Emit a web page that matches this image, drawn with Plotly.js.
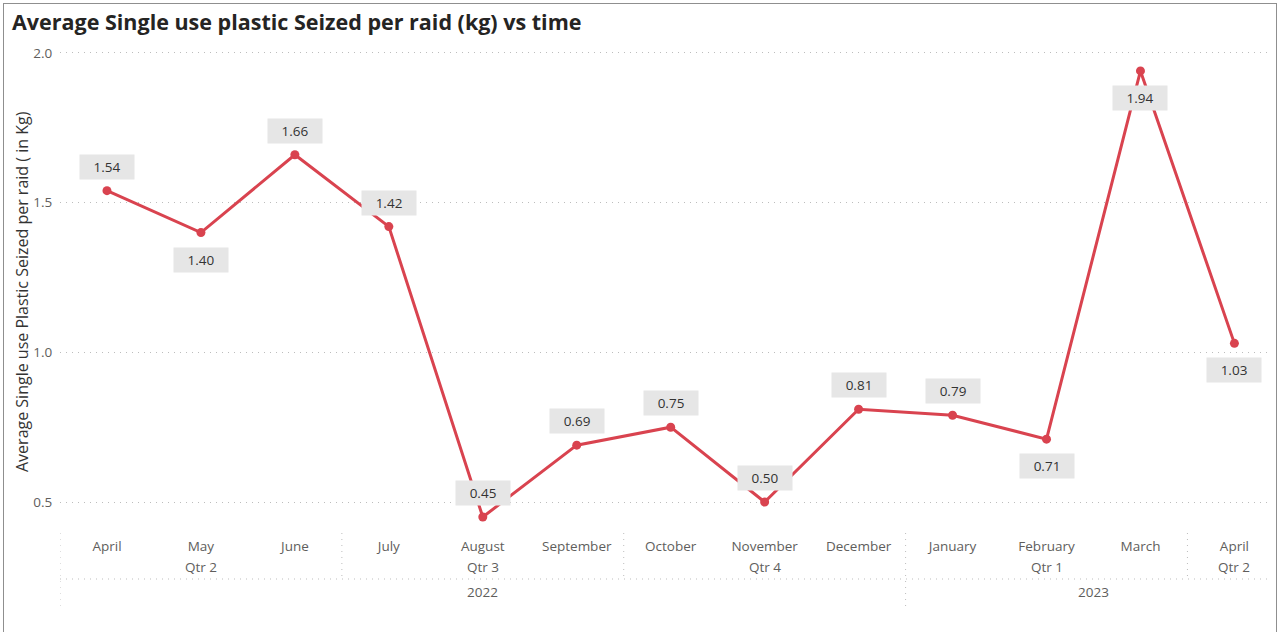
<!DOCTYPE html>
<html>
<head>
<meta charset="utf-8">
<script src="https://cdn.plot.ly/plotly-3.0.1.min.js"></script>
<style>
html,body{margin:0;padding:0;background:#fff;}
#chart{width:1279px;height:632px;}
#frame{position:absolute;left:3px;top:3px;width:1272px;height:640px;border:1px solid #8f8f8f;pointer-events:none;}
</style>
</head>
<body>
<div id="chart"></div>
<div id="frame"></div>
<script>
// ---- data ----
const months = ["April","May","June","July","August","September","October","November","December","January","February","March","April"];
const quarters = ["Qtr 2","Qtr 2","Qtr 2","Qtr 3","Qtr 3","Qtr 3","Qtr 4","Qtr 4","Qtr 4","Qtr 1","Qtr 1","Qtr 1","Qtr 2"];
const years = ["2022","2022","2022","2022","2022","2022","2022","2022","2022","2023","2023","2023","2023"];
const values = [1.54, 1.40, 1.66, 1.42, 0.45, 0.69, 0.75, 0.50, 0.81, 0.79, 0.71, 1.94, 1.03];
const labelSide = ["above","below","above","above","above","above","above","above","above","above","below","below","below"];
const yTicks = [0.5, 1.0, 1.5, 2.0];

// ---- build ----
const idx = months.map((_, i) => i);
const lineColor = "#D9434F";
const gridColor = "#BDBDBD";
const textGray = "#605E5C";
const font = "'Open Sans', 'Noto Sans', sans-serif";
const sparseDot = "1px,5px";

const trace = {
  x: idx, y: values, type: "scatter", mode: "lines+markers",
  line: {color: lineColor, width: 3},
  marker: {color: lineColor, size: 9},
  hoverinfo: "x+y"
};

const annotations = [];
values.forEach((v, i) => {
  const up = labelSide[i] === "above";
  annotations.push({
    x: i, y: v, xref: "x", yref: "y", text: v.toFixed(2), showarrow: false,
    yshift: up ? 24 : -27, bgcolor: "#E6E6E6", borderpad: 3, width: 48, height: 18,
    font: {family: font, size: 13.5, color: "#333333"}
  });
});

function groups(keys) {
  const out = [];
  keys.forEach((k, i) => {
    const last = out[out.length - 1];
    if (last && last.key === k) last.end = i; else out.push({key: k, start: i, end: i});
  });
  return out;
}
const qKeys = quarters.map((q, i) => years[i] + "|" + q);
const qGroups = groups(qKeys);
const yGroups = groups(years);

const shapes = [];
const plotBottomPx = 523, plotTopPx = 44, H = 632;
const plotH = plotBottomPx - plotTopPx;
function pyPaper(px) { return (plotBottomPx - px) / plotH; }

qGroups.forEach(g => {
  annotations.push({
    x: (g.start + g.end) / 2, xref: "x", y: pyPaper(567), yref: "paper",
    text: g.key.split("|")[1], showarrow: false, yanchor: "middle",
    font: {family: font, size: 13.5, color: textGray}
  });
});
yGroups.forEach(g => {
  annotations.push({
    x: (g.start + g.end) / 2, xref: "x", y: pyPaper(592), yref: "paper",
    text: g.key, showarrow: false, yanchor: "middle",
    font: {family: font, size: 13.5, color: textGray}
  });
});
const dot = {color: gridColor, width: 1, dash: sparseDot};
qGroups.forEach((g, gi) => {
  const xb = g.start - 0.5;
  const isYear = gi === 0 || years[g.start] !== years[g.start - 1];
  shapes.push({type: "line", xref: "x", yref: "paper", x0: xb, x1: xb,
    y0: pyPaper(533), y1: pyPaper(isYear ? 606 : 579), line: dot});
});
shapes.push({type: "line", xref: "paper", yref: "paper", x0: 0, x1: 1,
  y0: pyPaper(579), y1: pyPaper(579), line: dot});

annotations.push({
  xref: "paper", yref: "paper", x: -38 / 1212, y: pyPaper(292), textangle: -90,
  text: "Average Single use Plastic Seized per raid ( in Kg)", showarrow: false,
  xanchor: "center", yanchor: "middle",
  font: {family: font, size: 16, color: "#333333"}
});

const layout = {
  width: 1279, height: 632,
  margin: {l: 60, r: 7, t: plotTopPx, b: H - plotBottomPx, pad: 0},
  paper_bgcolor: "#ffffff", plot_bgcolor: "#ffffff",
  showlegend: false,
  title: {
    text: "<b>Average Single use plastic Seized per raid (kg) vs time</b>",
    x: 12 / 1279, xanchor: "left", xref: "container",
    y: 1 - 22 / 632, yanchor: "middle", yref: "container",
    font: {family: font, size: 21.5, color: "#252423"}
  },
  xaxis: {
    type: "linear", range: [-0.5, 12.4], tickmode: "array", tickvals: idx, ticktext: months,
    showgrid: false, zeroline: false, showline: false,
    ticks: "outside", ticklen: 11, tickcolor: "rgba(0,0,0,0)",
    tickfont: {family: font, size: 13.5, color: textGray}
  },
  yaxis: {
    range: [0.43, 2.03], tickmode: "array", tickvals: yTicks, ticktext: yTicks.map(v => v.toFixed(1)),
    showgrid: true, gridcolor: gridColor, griddash: sparseDot, gridwidth: 1,
    zeroline: false, showline: false,
    ticks: "outside", ticklen: 4, tickcolor: "rgba(0,0,0,0)",
    tickfont: {family: font, size: 13.5, color: textGray}
  },
  annotations: annotations,
  shapes: shapes
};

Plotly.newPlot("chart", [trace], layout, {displayModeBar: false});
</script>
</body>
</html>
